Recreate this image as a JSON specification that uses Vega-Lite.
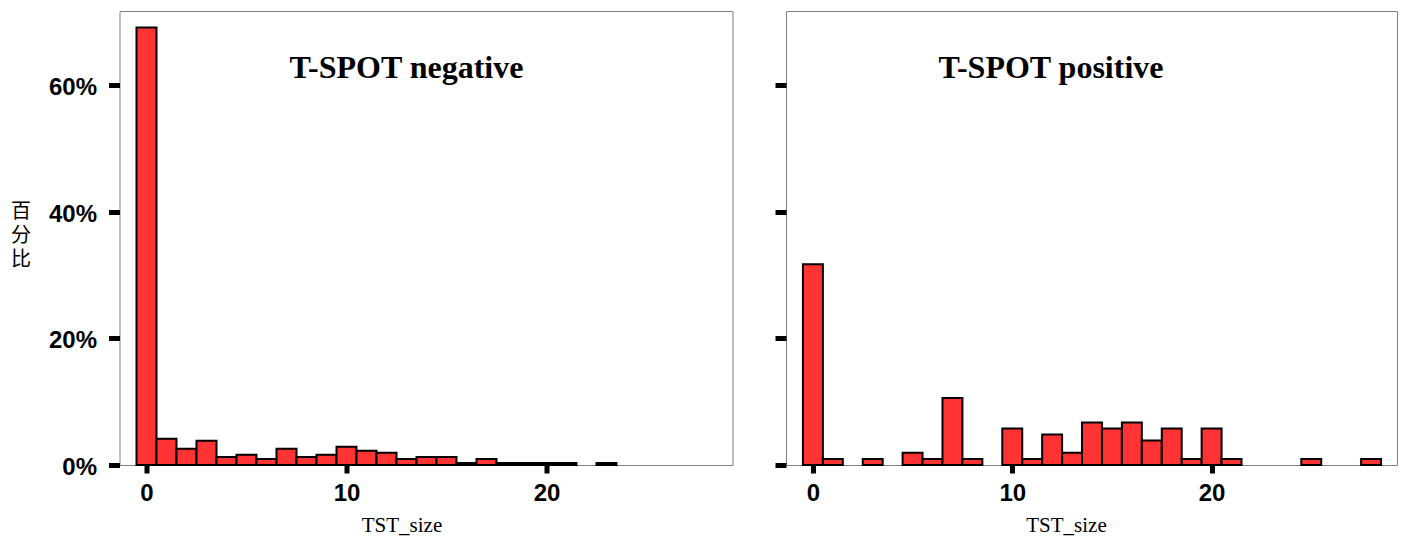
{
  "$schema": "https://vega.github.io/schema/vega-lite/v6.json",
  "background": "white",
  "padding": {"left": 9.5, "top": 10, "right": 5, "bottom": 5},
  "spacing": 38.5,
  "config": {
    "view": {"stroke": "#808080", "strokeWidth": 1},
    "axis": {
      "domain": false,
      "grid": false,
      "tickColor": "black",
      "tickWidth": 5,
      "labelColor": "black",
      "labelFont": "Liberation Sans",
      "labelFontWeight": "bold",
      "labelFontSize": 24,
      "titleColor": "black"
    },
    "title": {
      "font": "Liberation Serif",
      "fontSize": 32,
      "fontWeight": "bold",
      "color": "black",
      "baseline": "alphabetic",
      "anchor": "middle",
      "offset": -74
    }
  },
  "datasets": {
    "neg": [
      {"TST_size": 0, "lo": -0.5, "hi": 0.5, "pct": 69.1},
      {"TST_size": 1, "lo": 0.5, "hi": 1.5, "pct": 4.16},
      {"TST_size": 2, "lo": 1.5, "hi": 2.5, "pct": 2.56},
      {"TST_size": 3, "lo": 2.5, "hi": 3.5, "pct": 3.84},
      {"TST_size": 4, "lo": 3.5, "hi": 4.5, "pct": 1.28},
      {"TST_size": 5, "lo": 4.5, "hi": 5.5, "pct": 1.6},
      {"TST_size": 6, "lo": 5.5, "hi": 6.5, "pct": 0.96},
      {"TST_size": 7, "lo": 6.5, "hi": 7.5, "pct": 2.56},
      {"TST_size": 8, "lo": 7.5, "hi": 8.5, "pct": 1.28},
      {"TST_size": 9, "lo": 8.5, "hi": 9.5, "pct": 1.6},
      {"TST_size": 10, "lo": 9.5, "hi": 10.5, "pct": 2.88},
      {"TST_size": 11, "lo": 10.5, "hi": 11.5, "pct": 2.24},
      {"TST_size": 12, "lo": 11.5, "hi": 12.5, "pct": 1.92},
      {"TST_size": 13, "lo": 12.5, "hi": 13.5, "pct": 0.96},
      {"TST_size": 14, "lo": 13.5, "hi": 14.5, "pct": 1.28},
      {"TST_size": 15, "lo": 14.5, "hi": 15.5, "pct": 1.28},
      {"TST_size": 16, "lo": 15.5, "hi": 16.5, "pct": 0.32},
      {"TST_size": 17, "lo": 16.5, "hi": 17.5, "pct": 0.96},
      {"TST_size": 18, "lo": 17.5, "hi": 18.5, "pct": 0.32},
      {"TST_size": 19, "lo": 18.5, "hi": 19.5, "pct": 0.32},
      {"TST_size": 20, "lo": 19.5, "hi": 20.5, "pct": 0.32},
      {"TST_size": 21, "lo": 20.5, "hi": 21.5, "pct": 0.32},
      {"TST_size": 23, "lo": 22.5, "hi": 23.5, "pct": 0.32}
    ],
    "pos": [
      {"TST_size": 0, "lo": -0.5, "hi": 0.5, "pct": 31.7},
      {"TST_size": 1, "lo": 0.5, "hi": 1.5, "pct": 0.96},
      {"TST_size": 3, "lo": 2.5, "hi": 3.5, "pct": 0.96},
      {"TST_size": 5, "lo": 4.5, "hi": 5.5, "pct": 1.92},
      {"TST_size": 6, "lo": 5.5, "hi": 6.5, "pct": 0.96},
      {"TST_size": 7, "lo": 6.5, "hi": 7.5, "pct": 10.6},
      {"TST_size": 8, "lo": 7.5, "hi": 8.5, "pct": 0.96},
      {"TST_size": 10, "lo": 9.5, "hi": 10.5, "pct": 5.77},
      {"TST_size": 11, "lo": 10.5, "hi": 11.5, "pct": 0.96},
      {"TST_size": 12, "lo": 11.5, "hi": 12.5, "pct": 4.81},
      {"TST_size": 13, "lo": 12.5, "hi": 13.5, "pct": 1.92},
      {"TST_size": 14, "lo": 13.5, "hi": 14.5, "pct": 6.73},
      {"TST_size": 15, "lo": 14.5, "hi": 15.5, "pct": 5.77},
      {"TST_size": 16, "lo": 15.5, "hi": 16.5, "pct": 6.73},
      {"TST_size": 17, "lo": 16.5, "hi": 17.5, "pct": 3.85},
      {"TST_size": 18, "lo": 17.5, "hi": 18.5, "pct": 5.77},
      {"TST_size": 19, "lo": 18.5, "hi": 19.5, "pct": 0.96},
      {"TST_size": 20, "lo": 19.5, "hi": 20.5, "pct": 5.77},
      {"TST_size": 21, "lo": 20.5, "hi": 21.5, "pct": 0.96},
      {"TST_size": 25, "lo": 24.5, "hi": 25.5, "pct": 0.96},
      {"TST_size": 28, "lo": 27.5, "hi": 28.5, "pct": 0.96}
    ]
  },
  "hconcat": [
    {
      "width": 613,
      "height": 454,
      "data": {"name": "neg"},
      "title": {"text": "T-SPOT negative", "dx": -19.5},
      "mark": {"type": "bar", "fill": "#ff3333", "stroke": "black", "strokeWidth": 2},
      "encoding": {
        "x": {
          "field": "lo", "type": "quantitative",
          "scale": {"domain": [-1.35, 29.3], "nice": false, "zero": false},
          "axis": {
            "values": [0, 10, 20], "tickSize": 8, "labelPadding": 8,
            "title": "TST_size", "titleFont": "Liberation Serif", "titleFontSize": 21,
            "titleFontWeight": "normal", "titleX": 282, "titleY": 66, "titleBaseline": "alphabetic"
          }
        },
        "x2": {"field": "hi"},
        "y": {
          "field": "pct", "type": "quantitative",
          "scale": {"domain": [0, 71.7], "nice": false},
          "axis": {
            "values": [0, 20, 40, 60], "tickSize": 11, "labelPadding": 12, "labelOffset": 2.5,
            "labelExpr": "datum.value + '%'",
            "title": ["百", "分", "比"], "titleFont": "Noto Sans CJK SC", "titleFontSize": 20,
            "titleFontWeight": "normal", "titleAngle": 0, "titleAlign": "center",
            "titleBaseline": "middle", "titleLineHeight": 24, "titleX": -99, "titleY": 200
          }
        },
        "y2": {"datum": 0}
      }
    },
    {
      "width": 611,
      "height": 454,
      "data": {"name": "pos"},
      "title": {"text": "T-SPOT positive", "dx": -40.5},
      "mark": {"type": "bar", "fill": "#ff3333", "stroke": "black", "strokeWidth": 2},
      "encoding": {
        "x": {
          "field": "lo", "type": "quantitative",
          "scale": {"domain": [-1.35, 29.3], "nice": false, "zero": false},
          "axis": {
            "values": [0, 10, 20], "tickSize": 8, "labelPadding": 8,
            "title": "TST_size", "titleFont": "Liberation Serif", "titleFontSize": 21,
            "titleFontWeight": "normal", "titleX": 280, "titleY": 66, "titleBaseline": "alphabetic"
          }
        },
        "x2": {"field": "hi"},
        "y": {
          "field": "pct", "type": "quantitative",
          "scale": {"domain": [0, 71.7], "nice": false},
          "axis": {
            "values": [0, 20, 40, 60], "tickSize": 11, "labels": false, "title": null
          }
        },
        "y2": {"datum": 0}
      }
    }
  ]
}
